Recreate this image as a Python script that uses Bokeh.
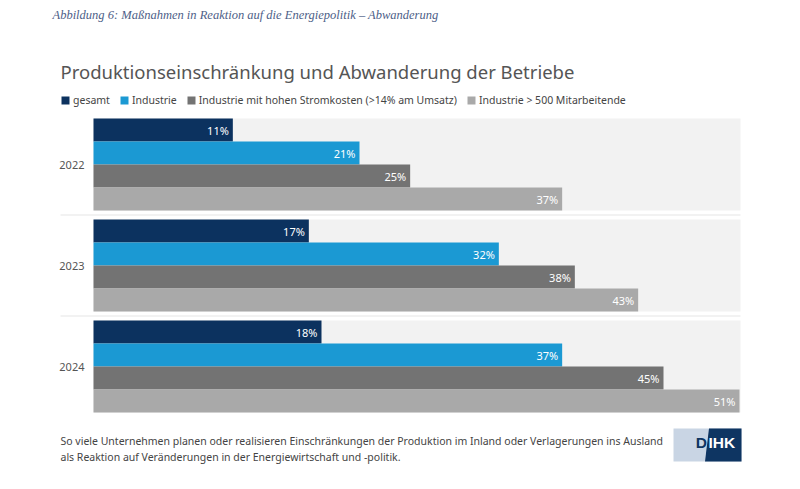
from bokeh.plotting import figure
from bokeh.models import Range1d, Label, Legend, LegendItem
from bokeh.embed import file_html
from bokeh.resources import INLINE
from bokeh.core.properties import value

# ---------------- data ----------------
years = ["2022", "2023", "2024"]
series_names = [
    "gesamt",
    "Industrie",
    "Industrie mit hohen Stromkosten (>14% am Umsatz)",
    "Industrie > 500 Mitarbeitende",
]
gesamt = [11, 17, 18]
industrie = [21, 32, 37]
industrie_strom = [25, 38, 45]
industrie_500 = [37, 43, 51]
series_values = [gesamt, industrie, industrie_strom, industrie_500]
colors = ["#0c325f", "#1b99d3", "#737373", "#a9a9a9"]

header = "Abbildung 6: Maßnahmen in Reaktion auf die Energiepolitik – Abwanderung"
title = "Produktionseinschränkung und Abwanderung der Betriebe"
note1 = ("So viele Unternehmen planen oder realisieren Einschränkungen der Produktion "
         "im Inland oder Verlagerungen ins Ausland")
note2 = "als Reaktion auf Veränderungen in der Energiewirtschaft und -politik."

# ---------------- layout ----------------
W, H = 784, 473
BAR_LEFT = 93.0                 # px of 0 %
PX_PER_PCT = (739 - 93) / 51.0  # px per percent
BAR_TOP = 118.0                 # px of first bar top
UNIT = 23.0                     # px per bar
GAP = 9.0 / UNIT                # gap between year groups (bar units)
N = len(series_names)
FONT = "Noto Sans"


def X(cx):
    return (cx - BAR_LEFT) / PX_PER_PCT


def Y(cy):
    return (cy - BAR_TOP) / UNIT


p = figure(width=W, height=H,
           x_range=Range1d(X(0), X(W)), y_range=Range1d(Y(H), Y(0)),
           output_backend="svg", toolbar_location=None,
           x_axis_location=None, y_axis_location=None,
           min_border=0, outline_line_color=None,
           background_fill_color="white", border_fill_color="white")
p.xgrid.grid_line_color = None
p.ygrid.grid_line_color = None

group_centers = [g * (N + GAP) + N / 2.0 for g in range(len(years))]

# background bands
p.hbar(y=group_centers, left=0, right=X(740), height=N,
       fill_color="#f2f2f2", line_color=None)

# separators
sep_y = [g * (N + GAP) - GAP / 2.0 for g in range(1, len(years))]
p.segment(x0=[X(60)] * len(sep_y), x1=[X(740)] * len(sep_y), y0=sep_y, y1=sep_y,
          line_color="#e6e6e6", line_width=1.2)

items = []
for i, (name, vals, col) in enumerate(zip(series_names, series_values, colors)):
    ys = [g * (N + GAP) + i + 0.5 for g in range(len(years))]
    r = p.hbar(y=ys, left=0, right=vals, height=1, fill_color=col, line_color=None)
    items.append(LegendItem(label=name, renderers=[r]))
    p.text(x=vals, y=ys, text=[f"{v}%" for v in vals], x_offset=-4,
           text_align="right", text_baseline="middle", text_color="white",
           text_font=value(FONT), text_font_size="11px")

# year labels
p.text(x=[0] * len(years), y=group_centers, text=years, x_offset=-9,
       text_align="right", text_baseline="middle", text_color="#555555",
       text_font=value(FONT), text_font_size="11px")

# legend
legend = Legend(items=items, orientation="horizontal", location=(60, 366),
                glyph_width=10, glyph_height=10, label_standoff=3, spacing=9,
                padding=0, margin=0, label_height=10,
                border_line_color=None, background_fill_alpha=0,
                label_text_font=FONT, label_text_font_size="10.5px",
                label_text_color="#444444")
p.add_layout(legend, "center")

# texts
p.add_layout(Label(x=X(52), y=Y(14), text=header, text_font="Liberation Serif",
                   text_font_style="italic", text_font_size="12.5px",
                   text_color="#4d6087", text_baseline="middle"))
p.add_layout(Label(x=X(60), y=Y(71), text=title, text_font=FONT,
                   text_font_size="18.5px", text_color="#555555",
                   text_baseline="middle"))
p.add_layout(Label(x=X(60), y=Y(440), text=note1, text_font=FONT,
                   text_font_size="10.5px", text_color="#444444",
                   text_baseline="middle"))
p.add_layout(Label(x=X(60), y=Y(456), text=note2, text_font=FONT,
                   text_font_size="10.5px", text_color="#444444",
                   text_baseline="middle"))

# DIHK logo
p.quad(left=[X(673)], right=[X(741)], top=[Y(428)], bottom=[Y(461)],
       fill_color="#c9d5e4", line_color=None)
p.patch(x=[X(708.5), X(741), X(741), X(704.5)], y=[Y(428), Y(428), Y(461), Y(461)],
        fill_color="#0e3562", line_color=None)
p.add_layout(Label(x=X(706.5), y=Y(441.5), text="D", text_font="Liberation Sans",
                   text_font_style="bold", text_font_size="15.5px",
                   text_color="#0e3562", text_align="right", text_baseline="middle"))
p.add_layout(Label(x=X(708), y=Y(441.5), text="IHK", text_font="Liberation Sans",
                   text_font_style="bold", text_font_size="15.5px",
                   text_color="white", text_align="left", text_baseline="middle"))

open("out.html", "w").write(file_html(p, INLINE))
